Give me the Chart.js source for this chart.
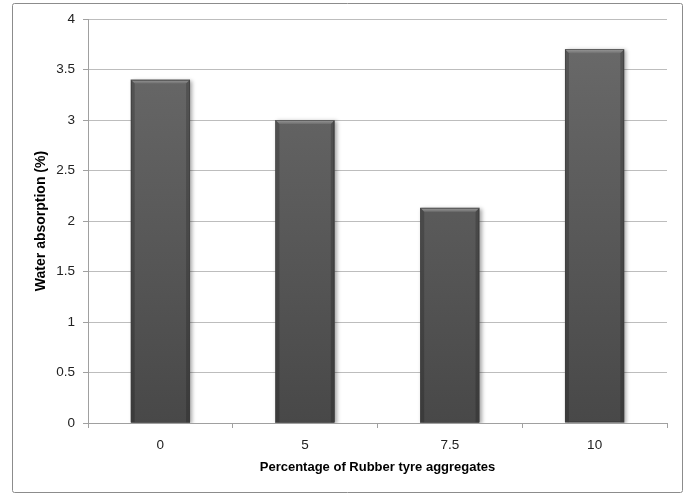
<!DOCTYPE html>
<html>
<head>
<meta charset="utf-8">
<script src="https://cdn.jsdelivr.net/npm/chart.js@4.4.1/dist/chart.umd.min.js"></script>
<style>
  html, body { margin: 0; padding: 0; background: #ffffff; }
  #wrap { width: 686px; height: 494px; position: relative; }
</style>
</head>
<body>
<div id="wrap"><canvas id="c" width="686" height="494"></canvas></div>
<script>
// Rubber tyre aggregate content vs. water absorption
const categories = ['0', '5', '7.5', '10'];
const absorption = [3.4, 3.0, 2.13, 3.7];
const yTicks = [0, 0.5, 1, 1.5, 2, 2.5, 3, 3.5, 4];

const FONT = "'Liberation Sans', Arial, sans-serif";

// White page with a thin grey frame around the whole chart
const framePlugin = {
  id: 'frame',
  beforeDraw(chart) {
    const ctx = chart.ctx;
    ctx.save();
    ctx.fillStyle = '#ffffff';
    ctx.fillRect(0, 0, chart.width, chart.height);
    ctx.strokeStyle = '#8c8c8c';
    ctx.lineWidth = 1;
    ctx.beginPath();
    if (ctx.roundRect) ctx.roundRect(12.5, 3.5, 670, 489, 2);
    else ctx.rect(12.5, 3.5, 670, 489);
    ctx.stroke();
    ctx.restore();
  }
};

// Soft drop shadow behind the bars and a bevelled top edge
const bevelPlugin = {
  id: 'bevel',
  beforeDatasetsDraw(chart) {
    const ctx = chart.ctx;
    ctx.save();
    ctx.shadowColor = 'rgba(0,0,0,0.35)';
    ctx.shadowBlur = 4;
    ctx.shadowOffsetX = 2;
    ctx.shadowOffsetY = 1;
  },
  afterDatasetsDraw(chart) {
    const ctx = chart.ctx;
    ctx.restore();
    const meta = chart.getDatasetMeta(0);
    ctx.save();
    meta.data.forEach(bar => {
      const l = bar.x - bar.width / 2, r = bar.x + bar.width / 2;
      const t = bar.y, b = bar.base;
      const d = 4;
      // top bevel
      const g = ctx.createLinearGradient(0, t, 0, t + d);
      g.addColorStop(0, '#9a9a9a');
      g.addColorStop(1, '#6e6e6e');
      ctx.fillStyle = g;
      ctx.beginPath();
      ctx.moveTo(l, t); ctx.lineTo(r, t); ctx.lineTo(r - d, t + d); ctx.lineTo(l + d, t + d);
      ctx.closePath();
      ctx.fill();
      // side bevels
      ctx.fillStyle = 'rgba(0,0,0,0.18)';
      ctx.beginPath();
      ctx.moveTo(l, t); ctx.lineTo(l + d, t + d); ctx.lineTo(l + d, b); ctx.lineTo(l, b);
      ctx.closePath(); ctx.fill();
      ctx.beginPath();
      ctx.moveTo(r, t); ctx.lineTo(r - d, t + d); ctx.lineTo(r - d, b); ctx.lineTo(r, b);
      ctx.closePath(); ctx.fill();
      ctx.strokeStyle = 'rgba(60,60,60,0.6)';
      ctx.lineWidth = 1;
      ctx.strokeRect(Math.round(l) + 0.5, Math.round(t) + 0.5, Math.round(r - l) - 1, Math.round(b - t) - 1);
    });
    ctx.restore();
  }
};

function barFill(context) {
  const chart = context.chart;
  const area = chart.chartArea;
  if (!area) return '#5a5a5a';
  const g = chart.ctx.createLinearGradient(0, area.top, 0, area.bottom);
  g.addColorStop(0, '#6b6b6b');
  g.addColorStop(1, '#484848');
  return g;
}

new Chart(document.getElementById('c'), {
  type: 'bar',
  data: {
    labels: categories,
    datasets: [{
      data: absorption,
      backgroundColor: barFill,
      borderWidth: 0,
      barPercentage: 1,
      categoryPercentage: 0.41
    }]
  },
  plugins: [framePlugin, bevelPlugin],
  options: {
    responsive: false,
    animation: false,
    devicePixelRatio: 1,
    layout: { padding: { left: 12, right: 19, top: 19, bottom: 0 } },
    plugins: { legend: { display: false }, tooltip: { enabled: false } },
    scales: {
      x: {
        afterFit(scale) { scale.height = 71; },
        grid: {
          offset: true,
          drawOnChartArea: false,
          drawTicks: true,
          tickLength: 5,
          color: '#a0a0a0'
        },
        border: { display: true, color: '#a0a0a0' },
        ticks: { color: '#222', font: { family: FONT, size: 13.5 }, padding: 9 },
        title: {
          display: true,
          text: 'Percentage of Rubber tyre aggregates',
          color: '#000',
          font: { family: FONT, size: 13, weight: 'bold' },
          padding: { top: 0, bottom: 19 }
        }
      },
      y: {
        min: 0,
        max: 4,
        afterFit(scale) { scale.width = 76; },
        afterBuildTicks(scale) { scale.ticks = yTicks.map(v => ({ value: v })); },
        grid: {
          color: '#bdbdbd',
          drawTicks: true,
          tickLength: 5,
          tickColor: '#a0a0a0'
        },
        border: { display: true, color: '#a0a0a0' },
        ticks: {
          color: '#222',
          font: { family: FONT, size: 13.5 },
          padding: 8,
          callback: v => String(v)
        },
        title: {
          display: true,
          text: 'Water absorption (%)',
          color: '#000',
          font: { family: FONT, size: 14, weight: 'bold' },
          padding: { top: 21, bottom: 0 }
        }
      }
    }
  }
});
</script>
</body>
</html>
